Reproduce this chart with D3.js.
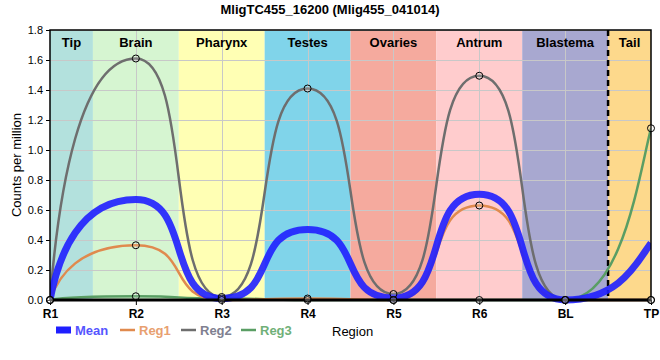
<!DOCTYPE html>
<html>
<head>
<meta charset="utf-8">
<script src="https://cdn.jsdelivr.net/npm/d3@7"></script>
<style>
body { margin: 0; background: #fff; }
text { font-family: "Liberation Sans", Arial, sans-serif; }
</style>
</head>
<body>
<div id="chartDiv"></div>
<script>
var points = ["R1", "R2", "R3", "R4", "R5", "R6", "BL", "TP"];
var regions = ["Tip", "Brain", "Pharynx", "Testes", "Ovaries", "Antrum", "Blastema", "Tail"];
var regionColors = ["#b3e1dd", "#d6f5d1", "#ffffb4", "#80d4ea", "#f5aa9e", "#ffcccd", "#a8a8d0", "#fdd98c"];
var meanVals = [0, 0.67, 0.01, 0.47, 0.013, 0.705, 0, 0.38];
var reg1 = [0, 0.365, 0, 0.01, 0, 0.63, 0, 0];
var reg2 = [0, 1.61, 0.02, 1.41, 0.04, 1.495, 0, 0];
var reg3 = [0, 0.025, 0.01, 0, 0, 0, 0, 1.145];
var yTicks = [0, 0.2, 0.4, 0.6, 0.8, 1.0, 1.2, 1.4, 1.6, 1.8];

var width = 660, height = 360;
var margin = {left: 50, right: 9, top: 30, bottom: 60};

var svg = d3.select("#chartDiv").append("svg")
    .attr("width", width)
    .attr("height", height);

var x = d3.scalePoint()
    .domain(points)
    .range([margin.left, width - margin.right]);
var step = x.step();
var y = d3.scaleLinear()
    .domain([0, 1.8])
    .range([height - margin.bottom, margin.top]);

var x0 = margin.left, x1 = width - margin.right;
var y0 = y(0), y1 = y(1.8);

// region bands, centred on each sample point
var bands = regions.map(function (r, i) {
    var c = x(points[i]);
    return {name: r, a: c - step / 2, b: c + step / 2, color: regionColors[i]};
});
// Tip starts at R1 and Tail ends at TP
bands[0].a = x0;
bands[bands.length - 1].b = x1;

svg.append("g").selectAll("rect")
    .data(bands)
    .enter().append("rect")
    .attr("x", function (d) { return d.a; })
    .attr("y", y1)
    .attr("width", function (d) { return d.b - d.a; })
    .attr("height", y0 - y1)
    .style("fill", function (d) { return d.color; });

// grid
var grid = svg.append("g").style("stroke", "#c8c8c8").style("stroke-width", 1);
grid.selectAll(".hg").data(yTicks.slice(1)).enter().append("line")
    .attr("x1", x0).attr("x2", x1)
    .attr("y1", function (d) { return Math.round(y(d)) + 0.5; })
    .attr("y2", function (d) { return Math.round(y(d)) + 0.5; });
grid.selectAll(".vg").data(points.slice(1, -1)).enter().append("line")
    .attr("y1", y1).attr("y2", y0)
    .attr("x1", function (d) { return Math.round(x(d)) + 0.5; })
    .attr("x2", function (d) { return Math.round(x(d)) + 0.5; });

// region labels
svg.append("g").selectAll("text")
    .data(bands)
    .enter().append("text")
    .attr("x", function (d) { return (d.a + d.b) / 2; })
    .attr("y", y1 + 17)
    .attr("text-anchor", "middle")
    .style("font-size", "13px")
    .style("font-weight", "bold")
    .text(function (d) { return d.name; });

// dashed divider before Tail
svg.append("line")
    .attr("x1", bands[7].a).attr("x2", bands[7].a)
    .attr("y1", y1).attr("y2", y0)
    .style("stroke", "#000")
    .style("stroke-width", 2.5)
    .style("stroke-dasharray", "6,4");

// smooth line: flat tangents at inner points, long handles
function smooth(vals) {
    var p = d3.path();
    var arm = 0.65, n = vals.length;
    p.moveTo(x(points[0]), y(vals[0]));
    for (var i = 0; i < n - 1; i++) {
        var xa = x(points[i]), xb = x(points[i + 1]);
        var ya = y(vals[i]), yb = y(vals[i + 1]);
        var h = xb - xa;
        var c1x = xa + arm * h, c1y = ya;
        var c2x = xb - arm * h, c2y = yb;
        if (i == 0) { c1x = xa + 0.1 * h; c1y = ya + 0.45 * (yb - ya); }
        if (i == n - 2) { c2x = xb - 0.15 * h; c2y = yb - 0.3 * (yb - ya); }
        p.bezierCurveTo(c1x, c1y, c2x, c2y, xb, yb);
    }
    return p.toString();
}

var series = [
    {name: "Reg3", vals: reg3, color: "#5a9e64", w: 2.5},
    {name: "Reg2", vals: reg2, color: "#6e6e6e", w: 2.5},
    {name: "Reg1", vals: reg1, color: "#e08a4e", w: 2.5}
];

svg.append("clipPath").attr("id", "clip")
    .append("rect").attr("x", x0).attr("y", y1).attr("width", x1 - x0).attr("height", y0 - y1 + 6);

var lines = svg.append("g").attr("clip-path", "url(#clip)");
series.forEach(function (s) {
    lines.append("path")
        .attr("d", smooth(s.vals))
        .style("fill", "none")
        .style("stroke", s.color)
        .style("stroke-width", s.w);
});
lines.append("path")
    .attr("d", smooth(meanVals))
    .style("fill", "none")
    .style("stroke", "#1f1fff")
    .style("stroke-opacity", 0.9)
    .style("stroke-width", 7);

// frame and axes
svg.append("path")
    .attr("d", "M" + x0 + "," + y0 + "V" + y1 + "H" + x1 + "V" + y0)
    .style("fill", "none")
    .style("stroke", "#000")
    .style("stroke-width", 1.5);

var yAxis = svg.append("g")
    .attr("transform", "translate(" + x0 + ",0)")
    .call(d3.axisLeft(y).tickValues(yTicks).tickFormat(d3.format(".1f")).tickSize(4).tickPadding(3));
yAxis.select(".domain").remove();
yAxis.selectAll("text").style("font-size", "11px").style("fill", "#000");

var xAxis = svg.append("g")
    .attr("transform", "translate(0," + y0 + ")")
    .call(d3.axisBottom(x).tickSize(5).tickPadding(4));
xAxis.select(".domain").remove();
xAxis.selectAll("text").style("font-size", "12px").style("font-weight", "bold").style("fill", "#000");

svg.append("line")
    .attr("x1", x0).attr("x2", x1)
    .attr("y1", y0).attr("y2", y0)
    .style("stroke", "#000")
    .style("stroke-width", 3);

// markers
var marks = [];
series.forEach(function (s) {
    s.vals.forEach(function (v, i) { marks.push({p: points[i], v: v}); });
});
svg.append("g").selectAll("circle")
    .data(marks)
    .enter().append("circle")
    .attr("cx", function (d) { return x(d.p); })
    .attr("cy", function (d) { return y(d.v); })
    .attr("r", 3.5)
    .style("fill", "rgba(255,255,255,0.15)")
    .style("stroke", "#000")
    .style("stroke-width", 1);

// titles
svg.append("text")
    .attr("x", width / 2)
    .attr("y", 14)
    .attr("text-anchor", "middle")
    .style("font-size", "13px")
    .style("font-weight", "bold")
    .text("MligTC455_16200 (Mlig455_041014)");

svg.append("text")
    .attr("transform", "translate(21," + (y0 + y1) / 2 + ") rotate(-90)")
    .attr("text-anchor", "middle")
    .style("font-size", "13px")
    .text("Counts per million");

svg.append("text")
    .attr("x", 332)
    .attr("y", 336)
    .style("font-size", "13px")
    .text("Region");

// legend
var legend = [
    {name: "Mean", color: "#1f1fff", text: "#5555ff", w: 7},
    {name: "Reg1", color: "#e08a4e", text: "#e8a070", w: 2.5},
    {name: "Reg2", color: "#6e6e6e", text: "#808090", w: 2.5},
    {name: "Reg3", color: "#5a9e64", text: "#70b078", w: 2.5}
];
var lx = [56, 120, 181, 241];
var lg = svg.append("g").selectAll("g")
    .data(legend)
    .enter().append("g")
    .attr("transform", function (d, i) { return "translate(" + lx[i] + ",330)"; });
lg.append("line")
    .attr("x1", 0).attr("x2", 15)
    .style("stroke", function (d) { return d.color; })
    .style("stroke-width", function (d) { return d.w; });
lg.append("text")
    .attr("x", 19)
    .attr("y", 5)
    .style("font-size", "13px")
    .style("font-weight", "bold")
    .style("fill", function (d) { return d.text; })
    .text(function (d) { return d.name; });
</script>
</body>
</html>
